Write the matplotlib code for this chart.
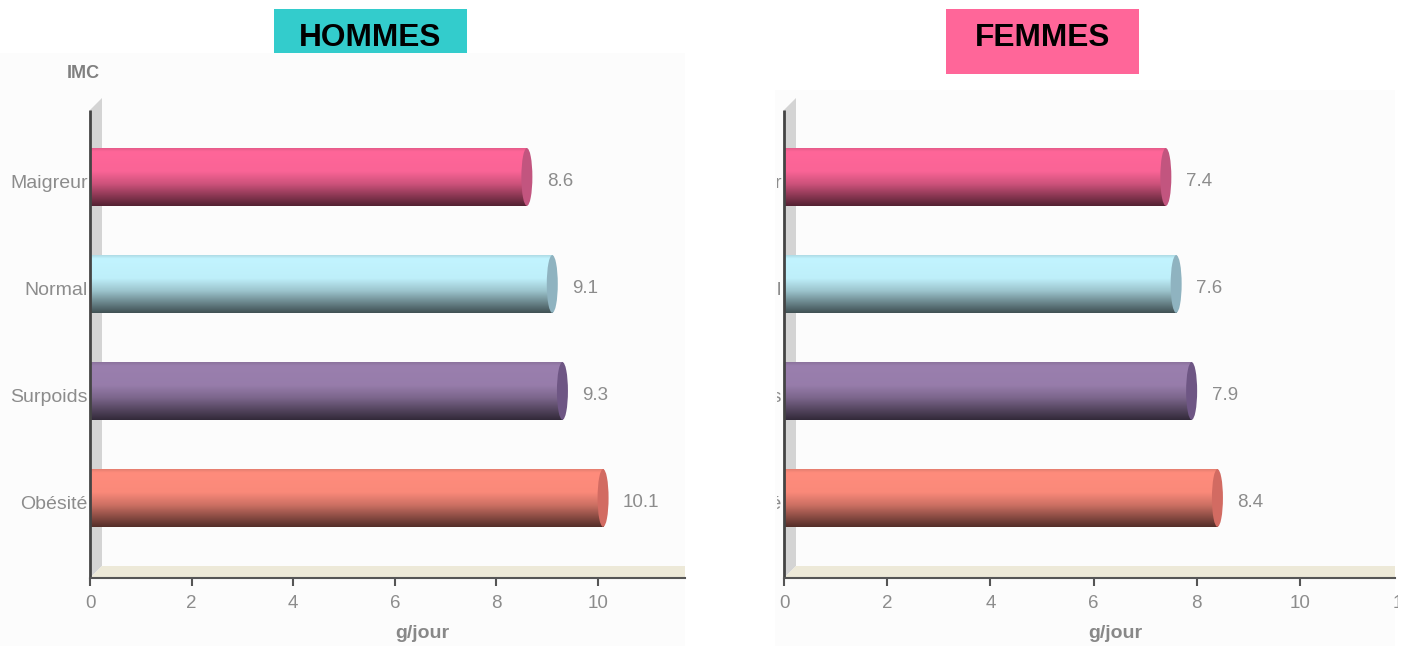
import numpy as np
import matplotlib
matplotlib.use("Agg")
import matplotlib.pyplot as plt
from matplotlib.patches import Rectangle, Polygon, Ellipse
from matplotlib.transforms import Bbox, TransformedBbox, ScaledTranslation

plt.rcParams['font.family'] = ['Liberation Sans', 'DejaVu Sans']

categories = ['Maigreur', 'Normal', 'Surpoids', 'Obésité']
hommes = [8.6, 9.1, 9.3, 10.1]
femmes = [7.4, 7.6, 7.9, 8.4]
xticks = [0, 2, 4, 6, 8, 10]

# light face colour and end-cap colour for each category
bar_colors = ['#ff6699', '#c2f4ff', '#9a7fae', '#ff8c7c']
cap_colors = ['#c2557f', '#8fb3c0', '#6e5684', '#d26b62']

W, H = 1405, 646
fig = plt.figure(figsize=(W / 100, H / 100), dpi=100)
fig.patch.set_facecolor('white')


def px(x0, y0, x1, y1):
    # pixel box (top-left origin) -> figure fraction rect
    return [x0 / W, 1 - y1 / H, (x1 - x0) / W, (y1 - y0) / H]


# panel backgrounds, kept behind the axes
for x0, y0, x1, y1 in [(0, 53, 685, 646), (775, 90, 1395, 646)]:
    r = px(x0, y0, x1, y1)
    fig.patches.append(Rectangle((r[0], r[1]), r[2], r[3], transform=fig.transFigure,
                                 facecolor='#fcfcfc', edgecolor='none', zorder=-5))

# title boxes
for text, color, box in [('HOMMES', '#33cccc', (274, 9, 467, 53)),
                         ('FEMMES', '#ff6699', (946, 9, 1139, 74))]:
    r = px(*box)
    fig.patches.append(Rectangle((r[0], r[1]), r[2], r[3], transform=fig.transFigure,
                                 facecolor=color, edgecolor='none', zorder=1))
    fig.text(r[0] + r[2] / 2, 1 - 38 / H, text, ha='center', va='center',
             fontsize=22.8, fontweight='bold', color='black', zorder=2)

# vertical shading of the cylinders: brightness multiplier from top to bottom
t = np.linspace(0, 1, 120)
shade = np.interp(t, [0, 0.06, 0.4, 0.62, 0.82, 1.0], [0.9, 1.0, 0.98, 0.8, 0.55, 0.33])

BAR_H = 0.54
LABEL_GRAY = '#8c8c8c'
down = ScaledTranslation(0, -5 / 100, fig.dpi_scale_trans)


def draw_panel(ax, values, xmax, ppu, xlabel_pos):
    ax.set_facecolor('none')
    ax.set_xlim(0, xmax)
    ax.set_ylim(-0.748, 3.738)
    ypos = np.arange(len(categories))[::-1]

    for y, v, c, cc in zip(ypos, values, bar_colors, cap_colors):
        rgb = np.array(matplotlib.colors.to_rgb(c))
        img = (shade[:, None] * rgb[None, :])[:, None, :]
        ax.imshow(img, extent=[0, v, y - BAR_H / 2, y + BAR_H / 2], aspect='auto',
                  interpolation='bilinear', zorder=3)
        ax.add_patch(Ellipse((v, y), width=11 / ppu, height=BAR_H,
                             facecolor=cc, edgecolor='none', zorder=4))
        ax.text(v + 20 / ppu, y, f'{v:.1f}', ha='left', va='center',
                fontsize=13.5, color=LABEL_GRAY, zorder=5,
                transform=ax.transData + down)

    # side wall and floor
    bw = ax.get_position().width * W
    bh = ax.get_position().height * H
    dx, dy = 12 / bw, 12 / bh
    ax.add_patch(Polygon([(0, 0), (0, 1 - dy), (dx, 1), (dx, dy)], closed=True,
                         transform=ax.transAxes, facecolor='#d4d4d4', edgecolor='none', zorder=1))
    ax.add_patch(Polygon([(0, 0), (dx, dy), (1, dy), (1, 0)], closed=True,
                         transform=ax.transAxes, facecolor='#ede9d8', edgecolor='none', zorder=1))
    ax.plot([0, 0], [0, 1 - dy], transform=ax.transAxes, color='#444444', lw=2,
            solid_capstyle='butt', zorder=6, clip_on=False)

    for s in ['top', 'right', 'left']:
        ax.spines[s].set_visible(False)
    ax.spines['bottom'].set_color('#555555')
    ax.spines['bottom'].set_linewidth(1.5)
    ax.spines['bottom'].set_zorder(6)

    ax.set_xticks(xticks)
    ax.set_xticklabels([str(x) for x in xticks])
    ax.tick_params(axis='x', length=6, width=1.5, color='#555555', pad=6,
                   labelsize=13.5, labelcolor='#8c8c8c')
    ax.set_yticks(ypos)
    ax.set_yticklabels(categories)
    ax.tick_params(axis='y', length=0, pad=1.5, labelsize=14, labelcolor=LABEL_GRAY)
    for lab in ax.get_yticklabels():
        lab.set_transform(lab.get_transform() + down)
    ax.set_xlabel('g/jour', fontsize=14, fontweight='bold', color='#888888', labelpad=8)
    ax.xaxis.set_label_coords(xlabel_pos, -0.097)


axL = fig.add_axes(px(90, 98, 685, 578))
draw_panel(axL, hommes, 595 / 50.8, 50.8, 0.558)
fig.text(83 / W, 1 - 73 / H, 'IMC', ha='center', va='center', fontsize=13,
         fontweight='bold', color='#808080')

axR = fig.add_axes(px(784, 98, 1395, 578))
draw_panel(axR, femmes, 611 / 51.6, 51.6, 0.543)

# the right panel's category labels are cut by its own frame
clip = TransformedBbox(Bbox([[777 / W, 0], [1398 / W, 1]]), fig.transFigure)
for lab in axR.get_yticklabels():
    lab.set_clip_on(True)
    lab.set_clip_box(clip)
t12 = axR.text(12, -25 / 480, '12', transform=axR.get_xaxis_transform(), ha='center',
               va='center', fontsize=13.5, color='#8c8c8c')
t12.set_clip_on(True)
t12.set_clip_box(clip)

fig.savefig('out.png', dpi=100, facecolor='white')
